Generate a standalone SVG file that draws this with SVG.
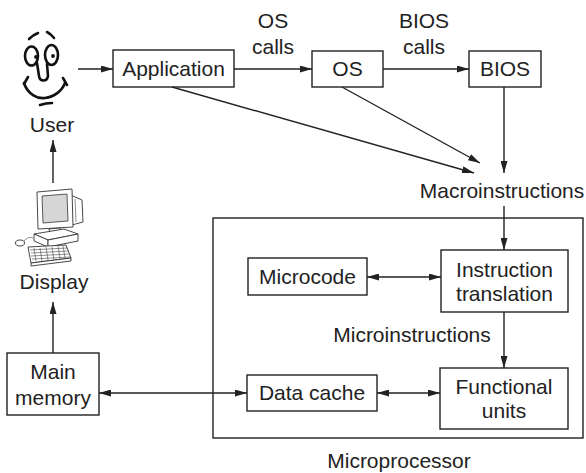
<svg xmlns="http://www.w3.org/2000/svg" width="586" height="473" viewBox="0 0 586 473">
  <defs>
    <style>
      .box { fill: #ffffff; stroke: #222222; stroke-width: 1.4; }
      .frame { fill: none; stroke: #222222; stroke-width: 1.4; }
      .lbl { font-family: "Liberation Sans", Arial, Helvetica, sans-serif; font-size: 21px; fill: #222222; text-anchor: middle; }
      .wire { fill: none; stroke: #222222; stroke-width: 1.4; }
      .one { marker-end: url(#head); }
      .two { marker-start: url(#head); marker-end: url(#head); }
      .ink { fill: none; stroke: #111111; stroke-width: 2.6; stroke-linecap: round; stroke-linejoin: round; }
      .pc { fill: #ffffff; stroke: #333333; stroke-width: 0.9; stroke-linejoin: round; }
      .pcl { fill: none; stroke: #444444; stroke-width: 0.6; }
    </style>
    <marker id="head" viewBox="0 0 12 7" refX="12" refY="3.5" markerWidth="12" markerHeight="7" markerUnits="userSpaceOnUse" orient="auto-start-reverse">
      <path d="M0,0 L12,3.5 L0,7 Z" fill="#222222"/>
    </marker>
  </defs>
  <rect width="586" height="473" fill="#ffffff"/>

  <!-- Microprocessor enclosure -->
  <g id="microprocessor">
    <rect class="frame" x="213" y="218" width="370" height="220"/>
    <text class="lbl" x="399" y="468">Microprocessor</text>
  </g>

  <!-- User face -->
  <g id="user">
    <path class="ink" d="M29,39 Q33,35 38,33"/>
    <path class="ink" d="M47,32 Q51,34 54,38"/>
    <ellipse class="ink" cx="31.5" cy="56" rx="6.5" ry="9.5"/>
    <ellipse class="ink" cx="51.5" cy="55" rx="6.5" ry="10"/>
    <circle cx="36" cy="57" r="1.9" fill="#111111"/>
    <circle cx="53" cy="56" r="1.9" fill="#111111"/>
    <path class="ink" d="M37,63 L39,76 C40,82 47,82 48,76 L47,64"/>
    <path class="ink" d="M24,83 C28,95 38,99 45,98 C54,97 62,91 65,83"/>
    <path class="ink" d="M28,77 L24,84"/>
    <path class="ink" d="M63,78 L67,85"/>
    <path class="ink" d="M40,105 Q46,103 52,103"/>
    <text class="lbl" x="52" y="132">User</text>
  </g>

  <!-- Display (desktop computer) -->
  <g id="display">
    <!-- monitor back -->
    <path class="pc" d="M66,193 L82,200 L83,222 L68,226 Z"/>
    <path class="pcl" d="M70,198 L72,222 M75,199 L76,222"/>
    <!-- monitor front -->
    <path class="pc" d="M37,192 L72,189 L73,227 L38,229 Z"/>
    <path d="M42,196 L67,194 L68,221 L43,223 Z" fill="#d6d6d6" stroke="#333333" stroke-width="0.8"/>
    <!-- stand -->
    <path class="pc" d="M49,229 L60,228 L61,232 L50,233 Z"/>
    <!-- system unit -->
    <path class="pc" d="M34,234 L64,229 L78,234 L48,240 Z"/>
    <path class="pc" d="M34,234 L48,240 L48,247 L34,241 Z"/>
    <path class="pc" d="M48,240 L78,234 L78,241 L48,247 Z"/>
    <!-- mouse and cord -->
    <ellipse cx="20" cy="243" rx="4.5" ry="3" class="pc"/>
    <path class="pcl" d="M24,241 Q28,236 33,238" stroke="#333333" stroke-width="0.8"/>
    <!-- keyboard -->
    <path class="pc" d="M28,247 L66,245 L71,258 L31,263 Z"/>
    <path class="pc" d="M31,263 L71,258 L71,261 L31,266 Z"/>
    <path class="pcl" d="M30,250 L67,248 M31,253 L68,251 M31,256 L69,254 M32,259 L70,257"/>
    <path class="pcl" d="M34,248 L36,261 M40,248 L42,261 M46,247 L48,260 M52,247 L54,260 M58,246 L60,259 M63,246 L65,258"/>
    <text class="lbl" x="54" y="289">Display</text>
  </g>

  <g id="application">
    <rect class="box" x="113" y="50" width="121" height="37"/>
    <text class="lbl" x="173.5" y="76">Application</text>
  </g>

  <g id="os">
    <rect class="box" x="312" y="51" width="71" height="36"/>
    <text class="lbl" x="347.5" y="76">OS</text>
  </g>

  <g id="bios">
    <rect class="box" x="469" y="51" width="72" height="36"/>
    <text class="lbl" x="505" y="76">BIOS</text>
  </g>

  <g id="macroinstructions">
    <text class="lbl" x="502" y="198">Macroinstructions</text>
  </g>

  <g id="microcode">
    <rect class="box" x="248" y="258" width="119" height="37"/>
    <text class="lbl" x="307.5" y="284">Microcode</text>
  </g>

  <g id="instruction-translation">
    <rect class="box" x="441" y="250" width="127" height="62"/>
    <text class="lbl" x="504.5" y="277">Instruction</text>
    <text class="lbl" x="504.5" y="301">translation</text>
  </g>

  <g id="microinstructions">
    <text class="lbl" x="412" y="342">Microinstructions</text>
  </g>

  <g id="data-cache">
    <rect class="box" x="247" y="375" width="130" height="36"/>
    <text class="lbl" x="312" y="400">Data cache</text>
  </g>

  <g id="functional-units">
    <rect class="box" x="440" y="368" width="128" height="61"/>
    <text class="lbl" x="504" y="394">Functional</text>
    <text class="lbl" x="504" y="418">units</text>
  </g>

  <g id="main-memory">
    <rect class="box" x="7" y="353" width="92" height="62"/>
    <text class="lbl" x="53" y="379">Main</text>
    <text class="lbl" x="53" y="405">memory</text>
  </g>

  <!-- call labels -->
  <g id="call-labels">
    <text class="lbl" x="273" y="28">OS</text>
    <text class="lbl" x="273" y="54">calls</text>
    <text class="lbl" x="424" y="28">BIOS</text>
    <text class="lbl" x="424" y="54">calls</text>
  </g>

  <!-- connectors -->
  <g id="connectors">
    <line class="wire one" x1="78" y1="69" x2="113" y2="69"/>
    <line class="wire one" x1="234" y1="69" x2="312" y2="69"/>
    <line class="wire one" x1="383" y1="69" x2="469" y2="69"/>
    <line class="wire one" x1="172" y1="87" x2="474" y2="173"/>
    <line class="wire one" x1="342" y1="87" x2="480" y2="163"/>
    <line class="wire one" x1="504" y1="87" x2="504" y2="173"/>
    <line class="wire one" x1="504" y1="206" x2="504" y2="250"/>
    <line class="wire two" x1="367" y1="277" x2="441" y2="277"/>
    <line class="wire one" x1="504" y1="312" x2="504" y2="368"/>
    <line class="wire two" x1="377" y1="393" x2="440" y2="393"/>
    <line class="wire two" x1="99" y1="393" x2="247" y2="393"/>
    <line class="wire one" x1="53" y1="353" x2="53" y2="302"/>
    <line class="wire one" x1="53" y1="183" x2="53" y2="140"/>
  </g>
</svg>
